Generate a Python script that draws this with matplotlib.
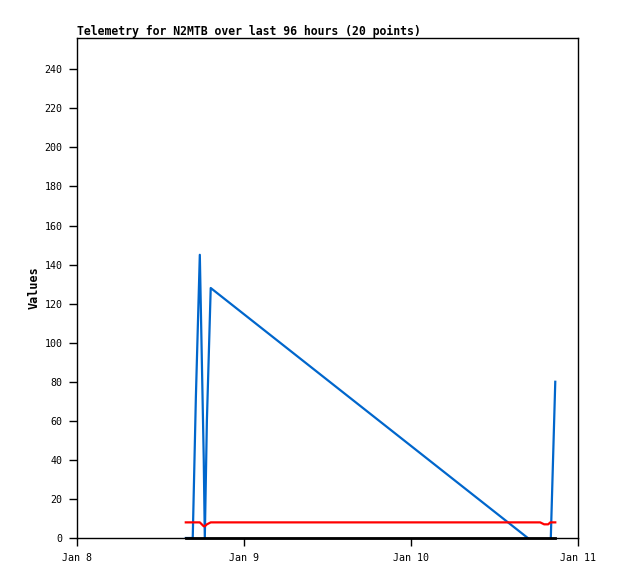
'''Telemetry chart for N2MTB.'''

import pandas as pd
import matplotlib
matplotlib.use('Agg')
import matplotlib.pyplot as plt

# Sample times and the three telemetry channels
times = ['2024-01-08 15:38', '2024-01-08 16:38', '2024-01-08 17:05',
         '2024-01-08 17:39', '2024-01-08 18:13', '2024-01-08 18:22',
         '2024-01-08 18:40', '2024-01-08 19:13', '2024-01-10 18:34',
         '2024-01-10 19:08', '2024-01-10 19:43', '2024-01-10 20:01',
         '2024-01-10 20:44']
blue_vals = [0, 0, 72, 145, 40, 0, 60, 128, -5, -7, -8.5, -9.3, 80]
red_vals = [8, 8, 8, 8, 6, 6, 7, 8, 8, 7, 7, 8, 8]
black_vals = [0, 0, 0, 0, 0, 0, 0, 0, 0, 0, 0, 0, 0]

x_ticks = ['2024-01-08', '2024-01-09', '2024-01-10', '2024-01-11']
x_tick_labels = ['Jan 8', 'Jan 9', 'Jan 10', 'Jan 11']
y_ticks = list(range(0, 241, 20))

t = pd.to_datetime(times)

fig = plt.figure(figsize=(6.18, 5.79), dpi=100)
ax = fig.add_axes([77 / 618, 41 / 579, 501 / 618, 500 / 579])

ax.plot(t, blue_vals, color='#0066cc', lw=1.6)
ax.plot(t, red_vals, color='#ff0000', lw=1.6)
ax.plot(t, black_vals, color='black', lw=2.0, clip_on=False, zorder=3)

ax.set_xlim(pd.Timestamp(x_ticks[0]), pd.Timestamp(x_ticks[-1]))
ax.set_ylim(0, 256)
ax.set_xticks(pd.to_datetime(x_ticks))
ax.set_xticklabels(x_tick_labels)
ax.set_yticks(y_ticks)

mono = 'DejaVu Sans Mono'
ax.tick_params(direction='out', length=5.5, width=1, labelsize=7.2, pad=5)
for lab in ax.get_xticklabels() + ax.get_yticklabels():
    lab.set_family(mono)
for s in ax.spines.values():
    s.set_color('black')
    s.set_linewidth(1)

ax.set_ylabel('Values', family=mono, fontweight='bold', fontsize=8.5, labelpad=3)
fig.text(77 / 618, 1 - 31 / 579, 'Telemetry for N2MTB over last 96 hours (20 points)',
         family=mono, fontweight='bold', fontsize=8.3, ha='left', va='center')

fig.savefig('out.png', dpi=100)
